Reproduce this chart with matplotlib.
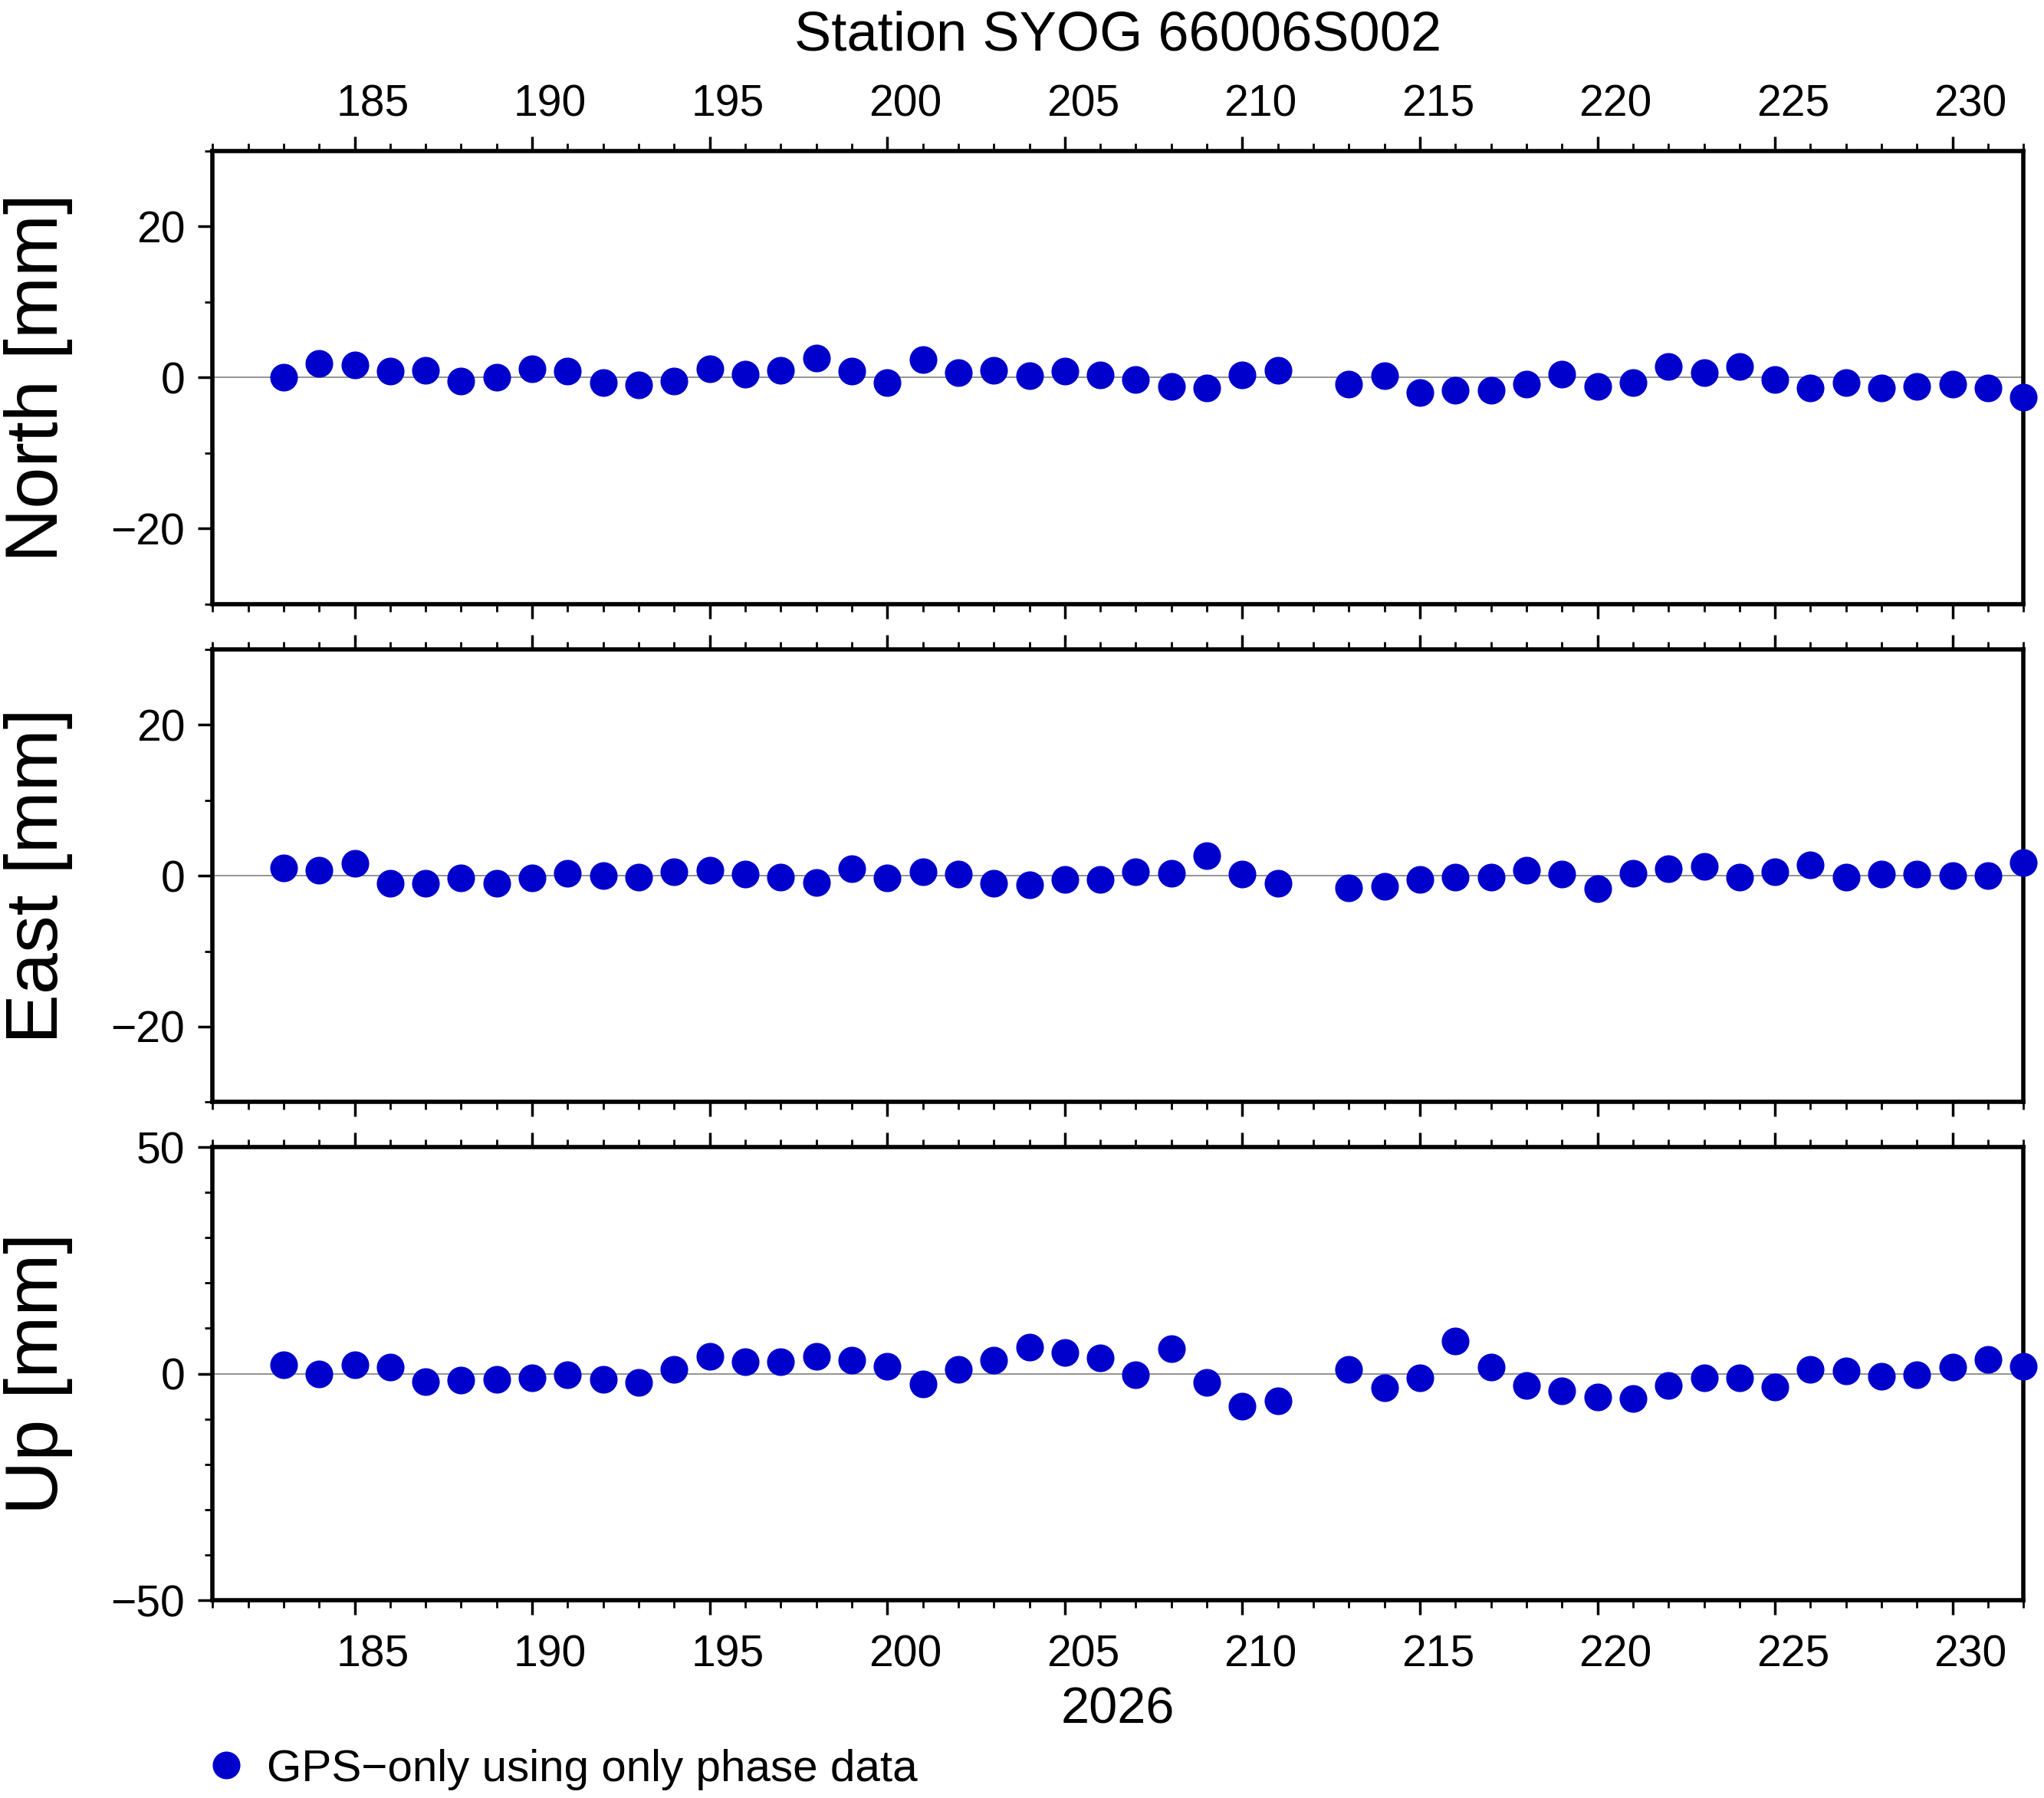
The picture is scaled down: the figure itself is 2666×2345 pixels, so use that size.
import matplotlib
matplotlib.use("Agg")
import matplotlib.pyplot as plt
from matplotlib.ticker import MultipleLocator
from matplotlib.lines import Line2D
from matplotlib.transforms import ScaledTranslation

plt.rcParams["font.family"] = ["Liberation Sans", "DejaVu Sans"]

# Day of year 2026 (day 212 missing)
days = [183, 184, 185, 186, 187, 188, 189, 190, 191, 192, 193, 194, 195, 196, 197,
        198, 199, 200, 201, 202, 203, 204, 205, 206, 207, 208, 209, 210, 211,
        213, 214, 215, 216, 217, 218, 219, 220, 221, 222, 223, 224, 225, 226,
        227, 228, 229, 230, 231, 232]

north = [0, 1.9, 1.7, 0.9, 1, -0.5, 0, 1.2, 0.9, -0.7, -1, -0.5, 1.2, 0.5, 1,
         2.6, 0.9, -0.7, 2.4, 0.7, 1, 0.2, 0.9, 0.3, -0.3, -1.2, -1.4, 0.3, 1,
         -0.9, 0.2, -2, -1.7, -1.7, -0.9, 0.5, -1.2, -0.7, 1.5, 0.7, 1.5, -0.3, -1.4,
         -0.7, -1.4, -1.2, -0.9, -1.4, -2.6]

east = [1, 0.7, 1.6, -1, -1, -0.3, -1, -0.3, 0.3, 0, -0.2, 0.5, 0.7, 0.2, -0.2,
        -0.9, 0.9, -0.3, 0.5, 0.2, -1, -1.2, -0.5, -0.5, 0.5, 0.3, 2.6, 0.2, -1,
        -1.6, -1.4, -0.5, -0.2, -0.2, 0.7, 0.2, -1.7, 0.3, 0.9, 1.2, -0.2, 0.5, 1.4,
        -0.2, 0.2, 0.2, 0, 0, 1.7]

up = [2, 0, 2, 1.4, -1.7, -1.4, -1.2, -0.9, -0.3, -1.2, -2, 0.9, 3.8, 2.6, 2.6,
      3.8, 2.9, 1.7, -2.3, 0.9, 2.9, 5.8, 4.6, 3.5, -0.3, 5.5, -2, -7.2, -6,
      0.9, -3.2, -0.9, 7.2, 1.4, -2.6, -3.8, -5.2, -5.5, -2.6, -0.9, -0.9, -2.9, 0.9,
      0.6, -0.6, -0.3, 1.4, 3.2, 1.7]

color = "#0000CC"
fig = plt.figure(figsize=(26.66, 23.45), dpi=100)

panels = [
    ("North [mm]", north, (-30, 30), 20, 10, [0.104, 0.664, 0.886, 0.252]),
    ("East [mm]", east, (-30, 30), 20, 10, [0.104, 0.387, 0.886, 0.252]),
    ("Up [mm]", up, (-50, 50), 50, 10, [0.104, 0.110, 0.886, 0.252]),
]

axes = []
for i, (label, vals, ylim, major, minor, rect) in enumerate(panels):
    ax = fig.add_axes(rect)
    ax.axhline(0, color="gray", lw=1.2, zorder=1)
    ax.plot(days, vals, "o", color=color, markersize=25, zorder=3, clip_on=False)
    ax.set_xlim(181, 232)
    ax.set_ylim(*ylim)
    ax.xaxis.set_major_locator(MultipleLocator(5))
    ax.xaxis.set_minor_locator(MultipleLocator(1))
    ax.yaxis.set_major_locator(MultipleLocator(major))
    ax.yaxis.set_minor_locator(MultipleLocator(minor))
    ax.tick_params(axis="both", which="major", direction="out", length=14, width=2.5,
                   labelsize=41, top=True, bottom=True, pad=12)
    ax.tick_params(axis="x", which="major", pad=(10 if i == 0 else 18))
    ax.tick_params(axis="both", which="minor", direction="out", length=7, width=2,
                   top=True, bottom=True)
    ax.tick_params(axis="x", labeltop=(i == 0), labelbottom=(i == 2))
    for s in ax.spines.values():
        s.set_linewidth(4)
    ax.set_ylabel(label, fontsize=70, labelpad=10)
    ax.yaxis.set_label_coords(-0.077, 0.5)
    axes.append(ax)

# day labels sit centred on the day interval, half a day right of the tick
fig.canvas.draw()
shift = ScaledTranslation(0.235, 0, fig.dpi_scale_trans)
for ax in axes:
    for lab in ax.get_xticklabels(which="major"):
        lab.set_transform(lab.get_transform() + shift)

axes[0].set_title("Station SYOG 66006S002", fontsize=52, pad=95)
axes[2].set_xlabel("2026", fontsize=48, labelpad=10)

handle = Line2D([], [], ls="none", marker="o", color=color, markersize=25)
fig.legend([handle], ["GPS\u2212only using only phase data"], loc="lower left",
           bbox_to_anchor=(0.078, -0.018), frameon=False, fontsize=42,
           handletextpad=0.3, handlelength=1.2)

fig.savefig("out.png", dpi=100)
